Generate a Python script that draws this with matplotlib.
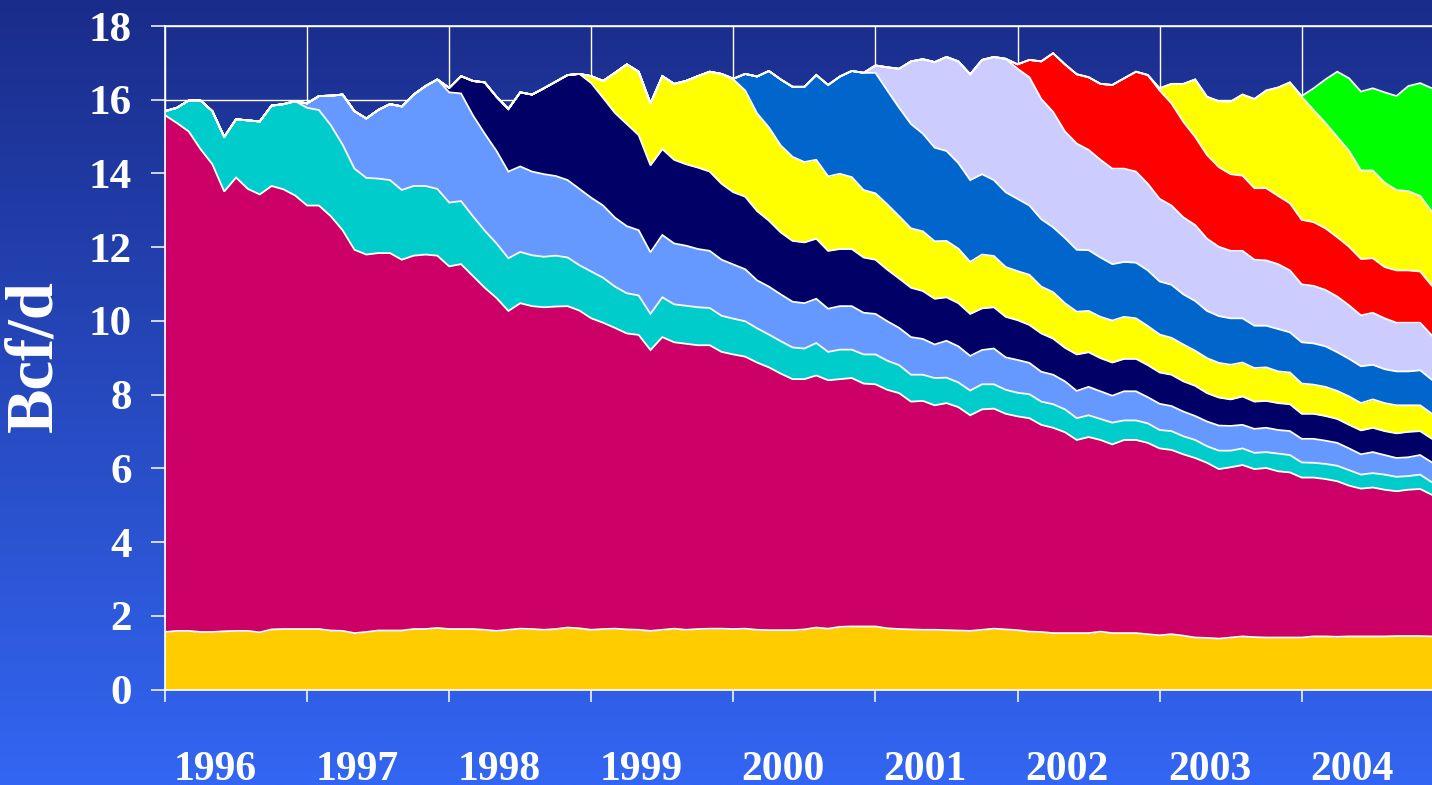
import numpy as np
import matplotlib
matplotlib.use("Agg")
import matplotlib.pyplot as plt

plt.rcParams['font.family'] = ['Liberation Serif', 'DejaVu Serif']
plt.rcParams['font.weight'] = 'bold'

years = list(range(1996, 2005))
months = np.arange(108)  # Jan 1996 .. Dec 2004

# Top of base (gold) layer, Bcf/d
base_top = [
    1.56, 1.59, 1.59, 1.56, 1.56, 1.58, 1.59, 1.59, 1.55, 1.63, 1.64, 1.64,
    1.64, 1.64, 1.60, 1.59, 1.53, 1.56, 1.60, 1.60, 1.60, 1.64, 1.64, 1.67,
    1.64, 1.64, 1.64, 1.62, 1.59, 1.62, 1.65, 1.64, 1.62, 1.64, 1.68, 1.66,
    1.62, 1.64, 1.65, 1.63, 1.62, 1.59, 1.62, 1.65, 1.62, 1.64, 1.65, 1.65,
    1.64, 1.65, 1.62, 1.61, 1.61, 1.61, 1.63, 1.68, 1.65, 1.70, 1.71, 1.71,
    1.71, 1.66, 1.64, 1.63, 1.62, 1.62, 1.61, 1.60, 1.59, 1.62, 1.65, 1.63,
    1.61, 1.57, 1.56, 1.53, 1.53, 1.53, 1.53, 1.57, 1.53, 1.53, 1.53, 1.50,
    1.47, 1.50, 1.46, 1.41, 1.40, 1.38, 1.41, 1.44, 1.42, 1.41, 1.41, 1.41,
    1.41, 1.44, 1.44, 1.43, 1.44, 1.44, 1.44, 1.44, 1.45, 1.45, 1.45, 1.44]

# Cumulative top of pre-1996 production (crimson)
pre1996_top = [
    15.58, 15.37, 15.14, 14.66, 14.25, 13.51, 13.89, 13.58, 13.43, 13.66, 13.57, 13.40,
    13.13, 13.13, 12.84, 12.46, 11.93, 11.80, 11.84, 11.84, 11.66, 11.77, 11.80, 11.77,
    11.48, 11.54, 11.22, 10.90, 10.62, 10.27, 10.48, 10.40, 10.37, 10.39, 10.40, 10.28,
    10.07, 9.95, 9.81, 9.66, 9.62, 9.21, 9.56, 9.42, 9.38, 9.34, 9.34, 9.16,
    9.09, 9.03, 8.87, 8.74, 8.57, 8.42, 8.42, 8.52, 8.39, 8.42, 8.45, 8.30,
    8.28, 8.13, 8.04, 7.81, 7.83, 7.71, 7.77, 7.66, 7.44, 7.60, 7.62, 7.48,
    7.41, 7.36, 7.18, 7.10, 6.98, 6.77, 6.85, 6.77, 6.65, 6.77, 6.77, 6.69,
    6.54, 6.50, 6.38, 6.28, 6.15, 5.98, 6.03, 6.09, 5.98, 6.01, 5.92, 5.89,
    5.75, 5.75, 5.71, 5.65, 5.53, 5.45, 5.48, 5.42, 5.38, 5.42, 5.44, 5.28]

# Cumulative top of each yearly vintage, from its first month on
top_1996 = [
    15.69, 15.78, 15.98, 15.98, 15.69, 14.99, 15.47, 15.44, 15.41, 15.84, 15.88, 15.96,
    15.78, 15.72, 15.31, 14.78, 14.13, 13.88, 13.86, 13.82, 13.55, 13.66, 13.66, 13.58,
    13.21, 13.25, 12.84, 12.45, 12.10, 11.70, 11.87, 11.78, 11.74, 11.77, 11.72, 11.51,
    11.34, 11.17, 10.93, 10.75, 10.69, 10.19, 10.64, 10.45, 10.41, 10.37, 10.35, 10.14,
    10.06, 9.99, 9.80, 9.63, 9.45, 9.28, 9.25, 9.40, 9.16, 9.22, 9.22, 9.09,
    9.09, 8.92, 8.80, 8.54, 8.54, 8.45, 8.46, 8.33, 8.11, 8.28, 8.28, 8.13,
    8.05, 8.01, 7.81, 7.74, 7.60, 7.36, 7.44, 7.34, 7.24, 7.30, 7.30, 7.22,
    7.04, 7.01, 6.87, 6.77, 6.60, 6.48, 6.48, 6.54, 6.42, 6.44, 6.40, 6.36,
    6.16, 6.15, 6.12, 6.07, 5.95, 5.83, 5.87, 5.83, 5.77, 5.79, 5.83, 5.62]
top_1997 = [
    15.90, 16.10, 16.11, 16.14, 15.69, 15.49, 15.72, 15.88, 15.82, 16.14, 16.37, 16.55,
    16.20, 16.17, 15.58, 15.08, 14.61, 14.05, 14.19, 14.05, 13.98, 13.93, 13.82, 13.58,
    13.34, 13.13, 12.80, 12.57, 12.46, 11.86, 12.33, 12.10, 12.04, 11.95, 11.90, 11.66,
    11.53, 11.40, 11.10, 10.93, 10.72, 10.52, 10.48, 10.60, 10.33, 10.40, 10.40, 10.22,
    10.19, 9.99, 9.81, 9.56, 9.51, 9.36, 9.46, 9.31, 9.05, 9.21, 9.25, 9.01,
    8.94, 8.86, 8.62, 8.54, 8.36, 8.10, 8.21, 8.09, 7.97, 8.09, 8.09, 7.93,
    7.75, 7.69, 7.54, 7.42, 7.27, 7.16, 7.15, 7.18, 7.07, 7.10, 7.04, 7.01,
    6.80, 6.80, 6.75, 6.69, 6.54, 6.38, 6.44, 6.36, 6.28, 6.30, 6.36, 6.16]
top_1998 = [
    16.32, 16.64, 16.51, 16.47, 16.08, 15.75, 16.20, 16.14, 16.31, 16.49, 16.67, 16.70,
    16.45, 16.05, 15.64, 15.34, 15.04, 14.22, 14.66, 14.37, 14.25, 14.16, 14.05, 13.72,
    13.49, 13.37, 12.98, 12.72, 12.40, 12.17, 12.13, 12.23, 11.90, 11.95, 11.95, 11.72,
    11.66, 11.39, 11.15, 10.90, 10.81, 10.60, 10.64, 10.48, 10.19, 10.34, 10.37, 10.11,
    10.02, 9.89, 9.66, 9.52, 9.27, 9.09, 9.15, 8.99, 8.87, 8.97, 8.97, 8.80,
    8.60, 8.54, 8.36, 8.24, 8.04, 7.92, 7.87, 7.95, 7.81, 7.83, 7.77, 7.74,
    7.48, 7.48, 7.42, 7.34, 7.18, 7.03, 7.10, 7.01, 6.95, 6.99, 7.01, 6.80]
top_1999 = [
    16.64, 16.51, 16.73, 16.96, 16.76, 15.90, 16.64, 16.43, 16.51, 16.64, 16.76, 16.70,
    16.55, 16.25, 15.63, 15.25, 14.76, 14.45, 14.31, 14.37, 13.92, 13.99, 13.90, 13.55,
    13.46, 13.16, 12.84, 12.51, 12.43, 12.16, 12.17, 11.96, 11.60, 11.80, 11.76, 11.46,
    11.35, 11.25, 10.93, 10.78, 10.48, 10.25, 10.27, 10.11, 10.01, 10.11, 10.07, 9.86,
    9.63, 9.54, 9.36, 9.19, 8.99, 8.86, 8.81, 8.87, 8.72, 8.74, 8.63, 8.60,
    8.30, 8.27, 8.21, 8.10, 7.95, 7.77, 7.87, 7.77, 7.71, 7.71, 7.71, 7.48]
top_2000 = [
    16.57, 16.70, 16.63, 16.78, 16.55, 16.35, 16.35, 16.67, 16.40, 16.63, 16.78, 16.73,
    16.73, 16.25, 15.78, 15.34, 15.08, 14.70, 14.61, 14.28, 13.82, 13.98, 13.82, 13.49,
    13.31, 13.13, 12.76, 12.54, 12.25, 11.93, 11.92, 11.72, 11.54, 11.60, 11.58, 11.37,
    11.07, 10.98, 10.72, 10.54, 10.27, 10.13, 10.07, 10.07, 9.87, 9.87, 9.78, 9.69,
    9.42, 9.39, 9.31, 9.15, 8.97, 8.77, 8.81, 8.69, 8.63, 8.63, 8.66, 8.40]
top_2001 = [
    16.93, 16.88, 16.84, 17.04, 17.10, 17.02, 17.16, 17.04, 16.69, 17.08, 17.16, 17.11,
    16.84, 16.61, 16.02, 15.67, 15.14, 14.81, 14.64, 14.37, 14.13, 14.13, 14.05, 13.72,
    13.31, 13.13, 12.81, 12.60, 12.23, 12.01, 11.90, 11.90, 11.66, 11.64, 11.54, 11.37,
    10.99, 10.95, 10.84, 10.66, 10.42, 10.15, 10.22, 10.07, 9.95, 9.95, 9.95, 9.60]
top_2002 = [
    16.96, 17.08, 17.04, 17.26, 16.96, 16.69, 16.61, 16.43, 16.40, 16.58, 16.76, 16.67,
    16.25, 15.90, 15.40, 14.99, 14.50, 14.17, 13.98, 13.94, 13.60, 13.60, 13.39, 13.19,
    12.74, 12.68, 12.51, 12.27, 12.01, 11.68, 11.70, 11.46, 11.37, 11.37, 11.34, 10.95]
top_2003 = [
    16.31, 16.43, 16.43, 16.55, 16.08, 15.96, 15.95, 16.14, 16.02, 16.25, 16.33, 16.47,
    16.08, 15.72, 15.37, 14.99, 14.61, 14.08, 14.08, 13.75, 13.55, 13.52, 13.39, 12.96]
top_2004 = [
    16.10, 16.31, 16.55, 16.76, 16.58, 16.22, 16.31, 16.20, 16.10, 16.37, 16.45, 16.31]

vintage_tops = [top_1996, top_1997, top_1998, top_1999, top_2000,
                top_2001, top_2002, top_2003, top_2004]

colors = ['#FFCC00', '#CC0066', '#00CCCC', '#6699FF', '#000066', '#FFFF00',
          '#0066CC', '#CCCCFF', '#FF0000', '#FFFF00', '#00FF00']

# build full cumulative boundaries
tops = [np.array(base_top, float), np.array(pre1996_top, float)]
prev = tops[-1]
for vals in vintage_tops:
    full = prev.copy()
    start = len(months) - len(vals)
    full[start:] = vals
    tops.append(full)
    prev = full

W, H = 1432, 785
fig = plt.figure(figsize=(W / 100, H / 100), dpi=100)

# gradient background
bg = fig.add_axes([0, 0, 1, 1], zorder=-10)
top_c = np.array([26, 44, 138]) / 255.0
bot_c = np.array([51, 102, 243]) / 255.0
t = np.linspace(0, 1, 512)[:, None, None]
grad = top_c[None, None, :] * (1 - t) + bot_c[None, None, :] * t
bg.imshow(grad, aspect='auto', extent=[0, 1, 0, 1])
bg.set_axis_off()

ax = fig.add_axes([165 / W, 95.5 / H, (W - 165) / W, 663.5 / H])
ax.patch.set_alpha(0)

lower = np.zeros(len(months))
for top, col in zip(tops, colors):
    ax.fill_between(months, lower, top, color=col, lw=0, zorder=2)
    lower = top
for top in tops:
    ax.plot(months, top, color='white', lw=1.3, zorder=3, solid_joinstyle='miter')

ax.set_xlim(0, 107)
ax.set_ylim(0, 18)
ax.set_yticks(range(0, 19, 2))
ax.set_xticks(range(0, 108, 12))
ax.set_xticklabels([])
ax.grid(True, color='white', lw=1.0)
ax.set_axisbelow(True)

ax.tick_params(axis='y', colors='white', length=10, width=1.1, pad=14,
               labelsize=31)
ax.tick_params(axis='x', colors='white', length=8.6, width=1.1)
for s in ['left', 'bottom', 'top']:
    ax.spines[s].set_color('white')
    ax.spines[s].set_linewidth(1.2)
ax.spines['right'].set_visible(False)

for k, yr in enumerate(years):
    ax.text(12 * k + 4.2, -0.1364, str(yr), transform=ax.get_xaxis_transform(),
            ha='center', va='baseline', fontsize=30, color='white',
            fontweight='bold', clip_on=False)

fig.text(35 / W, 1 - 356.5 / H, 'Bcf/d', rotation=90, ha='center',
         va='center', fontsize=48, color='white', fontweight='bold')

fig.savefig('out.png', dpi=100)
